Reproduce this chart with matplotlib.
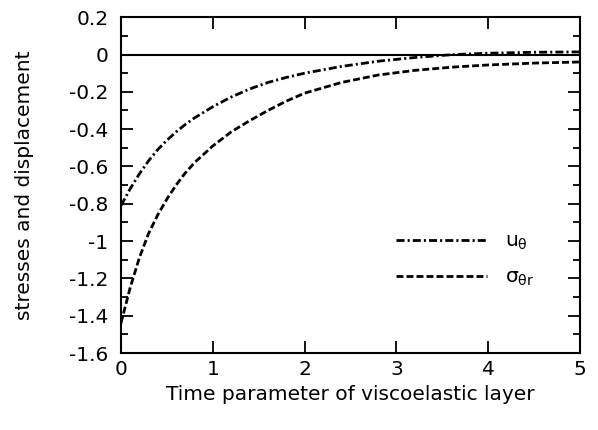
import matplotlib.pyplot as plt
from matplotlib.ticker import MultipleLocator

plt.rcParams['font.family'] = ['DejaVu Sans']
plt.rcParams['mathtext.fontset'] = 'dejavusans'

# values
t = [0, 0.1, 0.2, 0.3, 0.4, 0.5, 0.6, 0.7, 0.8, 1.0, 1.2, 1.4, 1.6, 1.8, 2.0,
     2.4, 2.8, 3.2, 3.6, 4.0, 4.5, 5.0]
u_theta = [-0.81, -0.72, -0.64, -0.57, -0.51, -0.46, -0.415, -0.375, -0.34, -0.28,
           -0.228, -0.185, -0.15, -0.123, -0.10, -0.064, -0.036, -0.016, -0.001,
           0.007, 0.012, 0.014]
sigma_theta_r = [-1.44, -1.25, -1.09, -0.96, -0.86, -0.775, -0.70, -0.635, -0.58, -0.49,
                 -0.415, -0.355, -0.30, -0.25, -0.207, -0.15, -0.11, -0.085, -0.068,
                 -0.056, -0.046, -0.04]

yticks = [0.2, 0, -0.2, -0.4, -0.6, -0.8, -1, -1.2, -1.4, -1.6]
ytick_labels = ['0.2', '0', '-0.2', '-0.4', '-0.6', '-0.8', '-1', '-1.2', '-1.4', '-1.6']

fs = 14.5

fig = plt.figure(figsize=(5.98, 4.30), dpi=100)
ax = fig.add_axes([0.2023, 0.179, 0.7677, 0.781])

ax.axhline(0, color='black', lw=1.5)
ax.plot(t, u_theta, color='black', lw=2.0, dashes=(2.9, 1.1, 0.75, 1.1),
        label=r'u$_\mathrm{\theta}$')
ax.plot(t, sigma_theta_r, color='black', lw=2.0, dashes=(2.5, 1.1),
        label=r'$\mathrm{\sigma_{\theta r}}$')

ax.set_xlim(0, 5)
ax.set_ylim(-1.6, 0.2)
ax.xaxis.set_major_locator(MultipleLocator(1))
ax.set_yticks(yticks)
ax.set_yticklabels(ytick_labels)
ax.yaxis.set_minor_locator(MultipleLocator(0.1))
ax.tick_params(which='both', direction='in', top=True, right=True, labelsize=fs, width=1.3)
ax.tick_params(which='major', length=8.5)
ax.tick_params(axis='y', which='major', pad=9)
ax.tick_params(axis='x', which='major', pad=5)
ax.tick_params(which='minor', length=5)
for s in ax.spines.values():
    s.set_linewidth(1.5)

ax.set_xlabel('Time parameter of viscoelastic layer', fontsize=fs)
ax.set_ylabel('stresses and displacement', fontsize=fs)
ax.xaxis.set_label_coords(0.5, -0.095)
ax.yaxis.set_label_coords(-0.19, 0.5)

ax.legend(loc='upper left', bbox_to_anchor=(0.56, 0.415), frameon=False, fontsize=fs,
          handlelength=4.5, handletextpad=0.9, labelspacing=0.8)

fig.savefig('out.png', dpi=100)
